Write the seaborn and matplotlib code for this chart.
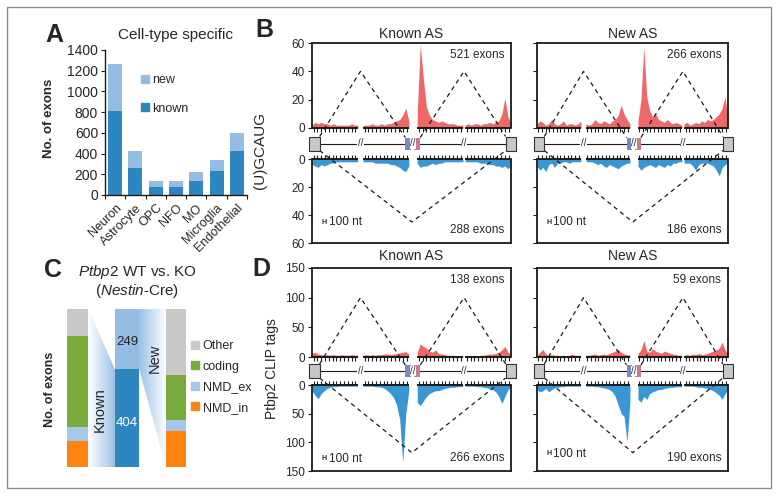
import numpy as np
import matplotlib.pyplot as plt
import pandas as pd
import seaborn as sns
from matplotlib.patches import Rectangle, Polygon
from matplotlib.lines import Line2D
from matplotlib.colors import LinearSegmentedColormap

sns.set_theme(style='ticks')
plt.rcParams['font.family'] = ['Liberation Sans', 'DejaVu Sans']
plt.rcParams['mathtext.fontset'] = 'custom'
plt.rcParams['mathtext.it'] = 'Liberation Sans:italic'
plt.rcParams['mathtext.rm'] = 'Liberation Sans'

# Panel A
cell_types = ['Neuron', 'Astrocyte', 'OPC', 'NFO', 'MO', 'Microglia', 'Endothelial']
total_exons = [1260, 425, 135, 135, 225, 340, 600]
known_exons = [810, 260, 75, 75, 135, 235, 425]

# Panel C
c_classes = ['Other', 'coding', 'NMD_ex', 'NMD_in']
c_known_frac = [0.172, 0.573, 0.089, 0.166]
c_new_frac = [0.42, 0.283, 0.069, 0.228]
n_known = 404
n_new = 249

# Panel B/D profiles, 4 segments each (upstream intron 5', 3', downstream 5', 3')
b_known_up = [[2, 4, 3, 4, 3, 3, 2, 3, 2, 2, 2, 2, 2, 3, 2, 2],
              [2, 2, 2, 3, 2, 2, 3, 2, 3, 3, 4, 5, 6, 9, 14, 5],
              [10, 59, 35, 15, 9, 6, 5, 4, 5, 4, 3, 3, 3, 2, 2, 2],
              [2, 3, 2, 3, 3, 2, 3, 3, 4, 3, 4, 5, 10, 21, 8, 3]]
b_known_down = [[4, 5, 6, 4, 5, 4, 3, 3, 2, 2, 2, 2, 2, 2, 2, 2],
                [2, 2, 2, 2, 3, 3, 3, 3, 3, 4, 4, 5, 6, 8, 9, 5],
                [3, 6, 5, 5, 4, 3, 4, 3, 3, 2, 2, 2, 2, 2, 2, 2],
                [2, 2, 2, 2, 2, 3, 3, 3, 4, 4, 5, 5, 6, 5, 7, 4]]
b_new_up = [[3, 5, 4, 2, 3, 6, 3, 2, 3, 5, 2, 3, 3, 2, 3, 5],
            [3, 2, 3, 6, 4, 3, 5, 4, 3, 5, 6, 9, 16, 10, 6, 3],
            [5, 20, 57, 22, 12, 8, 10, 6, 5, 4, 6, 4, 3, 4, 3, 2],
            [3, 4, 2, 3, 4, 3, 5, 4, 6, 5, 6, 8, 10, 14, 22, 6]]
b_new_down = [[5, 8, 6, 9, 4, 3, 6, 3, 3, 2, 2, 3, 2, 2, 2, 2],
              [2, 2, 2, 3, 4, 3, 5, 6, 4, 5, 6, 7, 5, 4, 3, 3],
              [5, 8, 6, 5, 4, 5, 6, 4, 5, 6, 4, 5, 3, 3, 2, 2],
              [3, 3, 3, 5, 8, 4, 3, 3, 3, 4, 5, 8, 12, 6, 4, 3]]
d_known_up = [[6, 8, 5, 4, 3, 4, 3, 4, 3, 3, 4, 3, 3, 4, 3, 3],
              [3, 4, 3, 4, 3, 4, 4, 5, 5, 4, 5, 6, 7, 8, 9, 5],
              [8, 22, 18, 15, 10, 8, 12, 6, 5, 4, 3, 3, 3, 2, 2, 2],
              [2, 2, 2, 3, 2, 3, 3, 4, 5, 5, 6, 8, 12, 18, 8, 4]]
d_known_down = [[10, 18, 24, 15, 10, 6, 4, 3, 3, 2, 2, 2, 2, 2, 2, 2],
                [2, 2, 2, 2, 3, 3, 4, 6, 10, 15, 22, 35, 60, 135, 50, 10],
                [30, 36, 28, 20, 15, 12, 10, 10, 8, 6, 5, 4, 4, 3, 3, 2],
                [2, 2, 2, 2, 3, 3, 4, 5, 6, 8, 12, 20, 32, 20, 8, 4]]
d_new_up = [[3, 8, 13, 5, 3, 4, 3, 3, 2, 3, 2, 3, 5, 3, 3, 2],
            [3, 3, 4, 5, 3, 4, 5, 4, 6, 8, 10, 13, 8, 5, 4, 3],
            [6, 12, 28, 10, 8, 14, 10, 8, 6, 10, 8, 6, 5, 4, 3, 3],
            [3, 4, 3, 5, 4, 6, 4, 5, 6, 8, 10, 12, 15, 25, 12, 5]]
d_new_down = [[8, 12, 10, 6, 12, 8, 5, 4, 3, 3, 2, 2, 2, 2, 2, 2],
              [2, 2, 2, 3, 3, 4, 5, 6, 8, 12, 20, 35, 50, 55, 99, 30],
              [25, 30, 20, 25, 15, 12, 10, 8, 8, 6, 5, 4, 4, 3, 3, 3],
              [2, 2, 2, 2, 3, 4, 4, 5, 6, 8, 10, 14, 18, 25, 15, 8]]

W, H = 778, 496
c_new = '#95bde3'
c_known = '#2e86c1'
red = '#ef6868'
blue = '#3a96d3'
seg_starts = [0, 335, 690, 1005]
seg_len = 300
xmax = 1305


def box(x0, y0, x1, y1):
    # pixel box (top-left origin) -> figure fraction
    return [x0 / W, 1 - y1 / H, (x1 - x0) / W, (y1 - y0) / H]


fig = plt.figure(figsize=(W / 100, H / 100), dpi=100)
fig.add_artist(Rectangle((7 / W, 1 - 488 / H), 764 / W, 481 / H, transform=fig.transFigure,
                         fill=False, ec='#8c8c8c', lw=1))

# ---------------- A ----------------
axA = fig.add_axes(box(105, 50, 247, 195))
dfA = pd.DataFrame({'cell': cell_types, 'total': total_exons, 'known': known_exons})
sns.barplot(data=dfA, x='cell', y='total', color=c_new, width=0.69, saturation=1, linewidth=0, ax=axA)
sns.barplot(data=dfA, x='cell', y='known', color=c_known, width=0.69, saturation=1, linewidth=0, ax=axA)
axA.set_xlim(-0.5, 6.5)
axA.set_ylim(0, 1400)
axA.set_yticks(range(0, 1401, 200))
axA.set_xticks(np.arange(-0.5, 7, 1))
axA.set_xticklabels([])
axA.set_xticks(range(7), minor=True)
axA.set_xticklabels(cell_types, minor=True, rotation=45, ha='right', rotation_mode='anchor', fontsize=9)
axA.tick_params(axis='x', which='minor', length=0, pad=5)
axA.tick_params(axis='x', which='major', length=3, width=0.8, color='k')
axA.tick_params(axis='y', labelsize=10, length=3, width=0.8, color='k', pad=2)
axA.set_xlabel('')
axA.set_ylabel('')
sns.despine(ax=axA)
for s in ['left', 'bottom']:
    axA.spines[s].set_color('k')
    axA.spines[s].set_linewidth(1)
axA.legend(handles=[Line2D([], [], marker='s', ls='', color=c_new, markersize=5.5, label='new'),
                    Line2D([], [], marker='s', ls='', color=c_known, markersize=5.5, label='known')],
           loc='upper left', bbox_to_anchor=(0.21, 0.875), frameon=False, fontsize=9,
           handlelength=0.6, handletextpad=0.3, labelspacing=1.3, borderpad=0)
fig.text(176 / W, 1 - 35 / H, 'Cell-type specific', ha='center', va='center', fontsize=11)
fig.text(49 / W, 1 - 118 / H, 'No. of exons', rotation=90, ha='center', va='center',
         fontsize=9.5, fontweight='bold')

# ---------------- B / D ----------------
def profile(xpx, top_px, bot_px, up, down, ymax, step, title, tpad, n_up, n_down,
            labels, tri_up, tri_dn, sc_y):
    x0, x1 = xpx
    ax_t = fig.add_axes(box(x0, top_px[0], x1, top_px[1]))
    ax_b = fig.add_axes(box(x0, bot_px[0], x1, bot_px[1]))
    tick = ymax * 0.045
    for s, u, d in zip(seg_starts, up, down):
        ax_t.fill_between(s + np.linspace(0, seg_len, len(u)), 0, u, color=red, lw=0)
        ax_b.fill_between(s + np.linspace(0, seg_len, len(d)), 0, d, color=blue, lw=0)
        for ax in (ax_t, ax_b):
            ax.plot([s, s + seg_len], [0, 0], color='k', lw=1.4, clip_on=False, solid_capstyle='butt')
            ax.vlines(np.arange(s + 10, s + seg_len, 25), -tick, 0, color='k', lw=0.8, clip_on=False)
    ax_t.set_ylim(0, ymax)
    ax_b.set_ylim(ymax, 0)
    ticks = np.arange(0, ymax + 1, step)
    for ax, hide in ((ax_t, 'bottom'), (ax_b, 'top')):
        ax.set_xlim(0, xmax)
        ax.set_xticks([])
        ax.set_yticks(ticks)
        ax.tick_params(axis='y', labelsize=8.5, length=3, width=0.8, color='k', pad=2, labelleft=labels)
        for s in ax.spines.values():
            s.set_color('k')
            s.set_linewidth(1.3)
        ax.spines[hide].set_visible(False)
    ax_t.set_title(title, fontsize=10, pad=tpad)
    ax_t.text(0.965, 0.86, f'{n_up} exons', transform=ax_t.transAxes, ha='right', va='center', fontsize=8.5)
    ax_b.text(0.965, 0.15, f'{n_down} exons', transform=ax_b.transAxes, ha='right', va='center', fontsize=8.5)
    ax_b.text(0.05, sc_y, 'H', transform=ax_b.transAxes, ha='left', va='center', fontsize=5, fontweight='bold')
    ax_b.text(0.085, sc_y, '100 nt', transform=ax_b.transAxes, ha='left', va='center', fontsize=8.5)

    # gene model and dashed splice lines (overlay in pixel y)
    ax_o = fig.add_axes(box(x0, top_px[0], x1, bot_px[1]), zorder=5)
    ax_o.set_xlim(0, xmax)
    ax_o.set_ylim(bot_px[1], top_px[0])
    ax_o.axis('off')
    ax_o.patch.set_alpha(0)
    yc = (top_px[1] + bot_px[0]) / 2
    peak = top_px[1] - tri_up / ymax * (top_px[1] - top_px[0])
    vert = bot_px[0] + tri_dn / ymax * (bot_px[1] - bot_px[0])
    ax_o.plot([50, 1270], [yc, yc], color='k', lw=0.8, zorder=1)
    for xs in (-20, 1270):
        ax_o.add_patch(Rectangle((xs, yc - 7), 70, 14, fc='#c8c8c8', ec='#333333', lw=0.8, clip_on=False, zorder=3))
    ax_o.add_patch(Rectangle((612, yc - 6), 40, 12, fc='#7a88c8', ec='none', zorder=3))
    ax_o.add_patch(Rectangle((670, yc - 6), 40, 12, fc='#c87a9c', ec='none', zorder=3))
    ax_o.add_patch(Rectangle((652, yc - 6), 18, 12, fc='white', ec='none', zorder=3))
    for xs in (318, 661, 997):
        ax_o.text(xs, yc, '//', ha='center', va='center', fontsize=7, zorder=4,
                  bbox=dict(fc='white', ec='none', pad=0.3))
    ls = (0, (3.5, 3))
    ax_o.plot([50, 318, 612], [yc - 7, peak, yc - 6], color='k', lw=0.9, ls=ls, zorder=2)
    ax_o.plot([710, 997, 1270], [yc - 6, peak, yc - 7], color='k', lw=0.9, ls=ls, zorder=2)
    ax_o.plot([50, 655, 1270], [yc + 7, vert, yc + 7], color='k', lw=0.9, ls=ls, zorder=2)


KNOWN_X = (312, 511)
NEW_X = (537, 728)
profile(KNOWN_X, (43, 128), (159, 243), b_known_up, b_known_down, 60, 20, 'Known AS', 3.5,
        521, 288, True, 40, 45, 0.25)
profile(NEW_X, (43, 128), (159, 243), b_new_up, b_new_down, 60, 20, 'New AS', 3.5,
        266, 186, False, 40, 45, 0.25)
profile(KNOWN_X, (268, 357), (385, 471), d_known_up, d_known_down, 150, 50, 'Known AS', 5.5,
        138, 266, True, 100, 118, 0.14)
profile(NEW_X, (268, 357), (385, 471), d_new_up, d_new_down, 150, 50, 'New AS', 5.5,
        59, 190, False, 100, 118, 0.2)
fig.text(260 / W, 1 - 150 / H, '(U)GCAUG', rotation=90, ha='center', va='center', fontsize=11)
fig.text(272 / W, 1 - 369 / H, 'Ptbp2 CLIP tags', rotation=90, ha='center', va='center', fontsize=10)

# ---------------- C ----------------
c_colors = {'Other': '#c8c8c8', 'coding': '#79aa3c', 'NMD_ex': '#a3c8ea', 'NMD_in': '#ff8310'}
axC = fig.add_axes(box(53, 309, 201, 467))
axC.set_xlim(-0.5, 2.5)
axC.set_ylim(0, 1)
axC.axis('off')
for xpos, fr, w in ((0, c_known_frac, 0.43), (2, c_new_frac, 0.41)):
    bottom = 0
    for cls, v in zip(c_classes[::-1], fr[::-1]):
        axC.bar(xpos, v, w, bottom=bottom, color=c_colors[cls], lw=0)
        bottom += v
tot = n_known + n_new
axC.bar(1, n_known / tot, 0.49, color=c_known, lw=0)
axC.bar(1, n_new / tot, 0.49, bottom=n_known / tot, color=c_new, lw=0)
axC.text(1, (n_known + 0.45 * n_new) / tot, str(n_new), ha='center', va='center', fontsize=9.5, color='#222222')
axC.text(1, 0.45 * n_known / tot, str(n_known), ha='center', va='center', fontsize=9.5, color='white')

grad = np.linspace(0, 1, 100).reshape(1, -1)
cm_k = LinearSegmentedColormap.from_list('k', ['white', '#9cc2e6'])
cm_n = LinearSegmentedColormap.from_list('n', ['#9cc2e6', 'white'])
pk = Polygon([(0.215, 1), (0.755, n_known / tot), (0.755, 0), (0.215, 0)], closed=True, fc='none', ec='none')
axC.add_patch(pk)
im = axC.imshow(grad, cmap=cm_k, extent=(0.215, 0.755, 0, 1), aspect='auto', zorder=0)
im.set_clip_path(pk)
pn = Polygon([(1.245, 1), (1.795, 1), (1.795, 0), (1.245, n_known / tot)], closed=True, fc='none', ec='none')
axC.add_patch(pn)
im2 = axC.imshow(grad, cmap=cm_n, extent=(1.245, 1.795, 0, 1), aspect='auto', zorder=0)
im2.set_clip_path(pn)
axC.set_xlim(-0.5, 2.5)
axC.set_ylim(0, 1)
axC.text(0.45, 0.365, 'Known', rotation=90, ha='center', va='center', fontsize=10.5)
axC.text(1.57, 0.69, 'New', rotation=90, ha='center', va='center', fontsize=10.5)
fig.legend(handles=[Line2D([], [], marker='s', ls='', color=c_colors[c], markersize=5.5, label=c) for c in c_classes],
           loc='upper left', bbox_to_anchor=(185 / W, 1 - 334 / H), frameon=False, fontsize=9,
           handlelength=0.6, handletextpad=0.3, labelspacing=0.68, borderpad=0)
fig.text(138 / W, 1 - 272 / H, r'$\mathit{Ptbp2}$ WT vs. KO', ha='center', va='center', fontsize=11)
fig.text(137 / W, 1 - 291 / H, r'($\mathit{Nestin}$-Cre)', ha='center', va='center', fontsize=11)
fig.text(50 / W, 1 - 389 / H, 'No. of exons', rotation=90, ha='center', va='center',
         fontsize=9, fontweight='bold')

# panel letters
for lab, x, y in (('A', 45, 42), ('B', 255, 37), ('C', 44, 277), ('D', 252, 276)):
    fig.text(x / W, 1 - y / H, lab, fontsize=18, fontweight='bold', va='baseline', ha='left')

fig.savefig('out.png', dpi=100)
